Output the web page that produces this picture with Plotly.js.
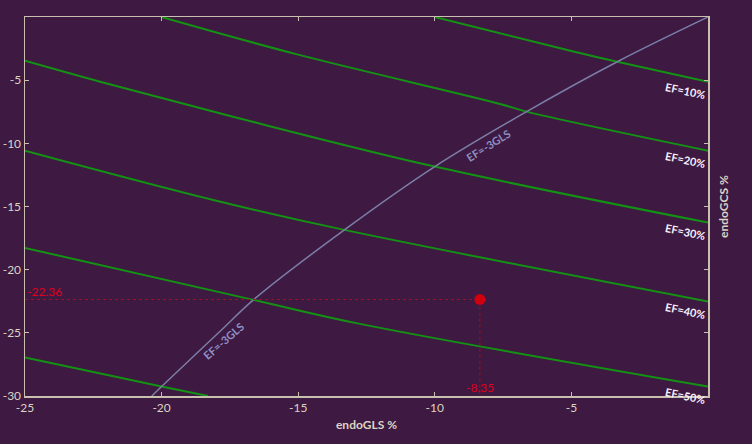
<!DOCTYPE html>
<html>
<head>
<meta charset="utf-8">
<script src="https://cdn.plot.ly/plotly-3.0.1.min.js"></script>
<style>
  html, body { margin: 0; padding: 0; background: #3e1941; }
  #plot { width: 752px; height: 444px; }
</style>
</head>
<body>
<div id="plot"></div>
<script>
// EF iso-lines (endoGLS on x, endoGCS on y)
var ef10X = [-10, -5, -3.32, 0];
var ef10Y = [0, -2.69, -3.54, -5.12];
var ef20X = [-20, -15, -7.61, -6.64, 0];
var ef20Y = [0, -2.98, -6.88, -7.49, -10.58];
var ef30X = [-25, -22.25, -17.02, -10, 0];
var ef30Y = [-3.46, -5.12, -8.1, -11.84, -16.27];
var ef40X = [-25, -18.11, -13.31, 0];
var ef40Y = [-10.58, -14.48, -16.85, -22.52];
var ef50X = [-25, -16.64, -12.74, 0];
var ef50Y = [-18.28, -22.39, -24.29, -29.25];
var ef60X = [-25, -20, -18.3];
var ef60Y = [-26.95, -29.25, -30];

// EF = -3GLS curve
var glsCurveX = [-20.36, -20, -17.8, -16.64, -13.31, -10, -6.64, -3.32, 0];
var glsCurveY = [-30, -29.25, -24.76, -22.39, -16.85, -11.84, -7.49, -3.54, 0];

// patient point
var patientGLS = [-8.35];
var patientGCS = [-22.36];

var xTicks = [-25, -20, -15, -10, -5];
var xTickText = ['-25', '-20', '-15', '-10', '-5'];
var yTicks = [-30, -25, -20, -15, -10, -5];
var yTickText = ['-30', '-25', '-20', '-15', '-10', '-5'];
var xRange = [-25, 0];
var yRange = [-30, 0];

var lineSets = [
  {x: ef10X, y: ef10Y, label: 'EF=10%'},
  {x: ef20X, y: ef20Y, label: 'EF=20%'},
  {x: ef30X, y: ef30Y, label: 'EF=30%'},
  {x: ef40X, y: ef40Y, label: 'EF=40%'},
  {x: ef50X, y: ef50Y, label: 'EF=50%'},
  {x: ef60X, y: ef60Y, label: ''}
];

var axisCol = '#c9bfae';
var textCol = '#ddd3c2';
var fontFam = 'Lato, "Open Sans", sans-serif';

var data = [];
var annotations = [];

lineSets.forEach(function (s) {
  data.push({
    x: s.x, y: s.y, mode: 'lines', type: 'scatter', hoverinfo: 'skip',
    line: {color: '#139313', width: 2, shape: 'spline', smoothing: 1}
  });
  if (s.label) {
    annotations.push({
      x: s.x[s.x.length - 1], y: s.y[s.y.length - 1],
      xref: 'x', yref: 'y', text: '<b>' + s.label + '</b>', showarrow: false,
      xanchor: 'right', yanchor: 'top', textangle: 12, xshift: 1, yshift: 4,
      font: {family: fontFam, size: 11, color: '#f4f0ff'}
    });
  }
});

data.push({
  x: glsCurveX, y: glsCurveY, mode: 'lines', type: 'scatter', hoverinfo: 'skip',
  line: {color: '#7b7ea6', width: 1.5, shape: 'spline', smoothing: 1}
});

// dotted guides from axes to the point
data.push({
  x: [xRange[0], patientGLS[0], patientGLS[0]],
  y: [patientGCS[0], patientGCS[0], yRange[0]],
  mode: 'lines', type: 'scatter', hoverinfo: 'skip',
  line: {color: '#a3101c', width: 1, dash: 'dot'}
});

data.push({
  x: patientGLS, y: patientGCS, mode: 'markers', type: 'scatter',
  marker: {color: '#d0000f', size: 11}
});

annotations.push(
  {x: -8.05, y: -10.2, xref: 'x', yref: 'y', text: '<b>EF=-3GLS</b>', showarrow: false,
   textangle: -32, font: {family: fontFam, size: 11, color: '#8d8fc4'}},
  {x: -17.72, y: -25.63, xref: 'x', yref: 'y', text: '<b>EF=-3GLS</b>', showarrow: false,
   textangle: -41, font: {family: fontFam, size: 11, color: '#8d8fc4'}},
  {x: xRange[0], y: patientGCS[0], xref: 'x', yref: 'y', text: String(patientGCS[0]),
   showarrow: false, xanchor: 'left', yanchor: 'bottom', yshift: -2,
   font: {family: fontFam, size: 12, color: '#e0001a'}},
  {x: patientGLS[0], y: yRange[0], xref: 'x', yref: 'y', text: String(patientGLS[0]),
   showarrow: false, xanchor: 'center', yanchor: 'bottom', yshift: -1,
   font: {family: fontFam, size: 12, color: '#e0001a'}},
  {x: 1, y: 0.5, xref: 'paper', yref: 'paper', text: '<b>endoGCS %</b>', showarrow: false,
   xanchor: 'left', yanchor: 'middle', xshift: 6, textangle: -90,
   font: {family: fontFam, size: 12, color: textCol}}
);

var axisBase = {
  showgrid: false, zeroline: false, showline: true, linecolor: axisCol, linewidth: 1.5,
  mirror: 'ticks', ticks: 'inside', ticklen: 4, tickcolor: axisCol, tickwidth: 1,
  tickfont: {family: fontFam, size: 12, color: textCol}
};

var layout = {
  width: 752, height: 444,
  paper_bgcolor: '#3e1941', plot_bgcolor: '#3e1941',
  margin: {l: 25, r: 44, t: 17, b: 48},
  showlegend: false,
  xaxis: Object.assign({}, axisBase, {
    range: xRange, tickvals: xTicks, ticktext: xTickText,
    title: {text: '<b>endoGLS %</b>', font: {family: fontFam, size: 12, color: textCol}, standoff: 6}
  }),
  yaxis: Object.assign({}, axisBase, {
    range: yRange, tickvals: yTicks, ticktext: yTickText
  }),
  annotations: annotations
};

Plotly.newPlot('plot', data, layout, {displayModeBar: false, staticPlot: true});
</script>
</body>
</html>
